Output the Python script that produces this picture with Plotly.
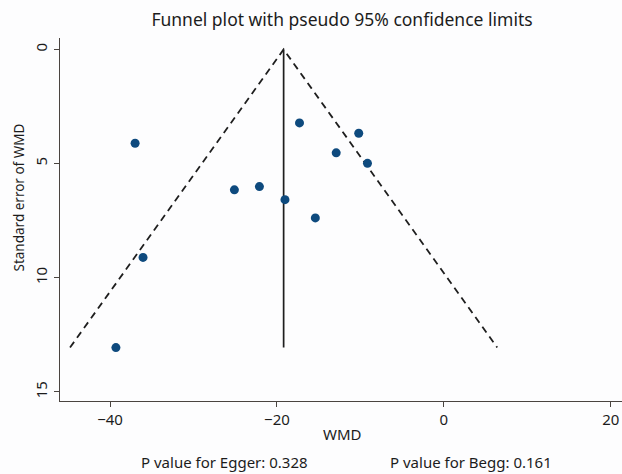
import plotly.graph_objects as go

# Study estimates (WMD) and their standard errors
wmd = [-37.0, -36.05, -39.3, -25.1, -22.1, -19.04, -17.3, -15.4, -12.9, -10.2, -9.15]
se = [4.11, 9.11, 13.06, 6.15, 6.01, 6.58, 3.22, 7.38, 4.53, 3.67, 4.99]

pooled = -19.2
se_max = 13.06
z = 1.96

x_ticks = [-40, -20, 0, 20]
y_ticks = [0, 5, 10, 15]

title_text = "Funnel plot with pseudo 95% confidence limits"
x_title = "WMD"
y_title = "Standard error of WMD"
egger_text = "P value for Egger: 0.328"
begg_text = "P value for Begg: 0.161"

FONT = "Noto Sans"
TXT = "#1c1c1c"
LINE = "#1e1e1e"

fig = go.Figure()

# funnel limits (dashed)
fig.add_trace(go.Scatter(
    x=[pooled - z * se_max, pooled, pooled + z * se_max],
    y=[se_max, 0, se_max],
    mode="lines",
    line=dict(color=LINE, width=1.8, dash="7px,5px"),
    hoverinfo="skip", showlegend=False,
))
# pooled estimate (solid)
fig.add_trace(go.Scatter(
    x=[pooled, pooled], y=[0, se_max],
    mode="lines",
    line=dict(color=LINE, width=1.7),
    hoverinfo="skip", showlegend=False,
))
# studies
fig.add_trace(go.Scatter(
    x=wmd, y=se, mode="markers",
    marker=dict(color="#0e4a7e", size=9, line=dict(width=0)),
    showlegend=False,
))

axis_common = dict(
    showgrid=False, zeroline=False, showline=True,
    linecolor="#4a4440", linewidth=1.3,
    ticks="outside", ticklen=5, tickwidth=1.2, tickcolor="#4a4440",
    tickfont=dict(family=FONT, size=15, color=TXT),
)

fig.update_layout(
    width=622, height=474,
    margin=dict(l=60, r=0, t=38, b=73),
    paper_bgcolor="#fdfdfe",
    plot_bgcolor="#fdfdfe",
    font=dict(family=FONT, color=TXT),
    title=dict(text=title_text, x=(342 - 60) / 562, xref="paper", y=1 - 20 / 474,
               yref="container", yanchor="middle", xanchor="center",
               font=dict(family=FONT, size=17.5, color=TXT)),
    xaxis=dict(range=[-46.0, 21.35], tickvals=x_ticks, **axis_common),
    yaxis=dict(range=[15.4, -0.5], tickvals=y_ticks, tickangle=-90,
               ticklabelstandoff=1, **axis_common),
    annotations=[
        dict(text=y_title, xref="paper", yref="paper", x=(18 - 60) / 562,
             y=(401 - 197.5) / 363,
             textangle=-90, showarrow=False, xanchor="center", yanchor="middle",
             font=dict(family=FONT, size=13.5, color=TXT)),
        dict(text=x_title, xref="paper", yref="paper", x=(342 - 60) / 562,
             y=(401 - 434) / 363, showarrow=False, xanchor="center", yanchor="middle",
             font=dict(family=FONT, size=15, color=TXT)),
        dict(text=egger_text, xref="paper", yref="paper", x=(224 - 60) / 562,
             y=(401 - 462) / 363, showarrow=False, xanchor="center", yanchor="middle",
             font=dict(family=FONT, size=15, color=TXT)),
        dict(text=begg_text, xref="paper", yref="paper", x=(471 - 60) / 562,
             y=(401 - 462) / 363, showarrow=False, xanchor="center", yanchor="middle",
             font=dict(family=FONT, size=15, color=TXT)),
    ],
)

fig.write_html("out.html")
